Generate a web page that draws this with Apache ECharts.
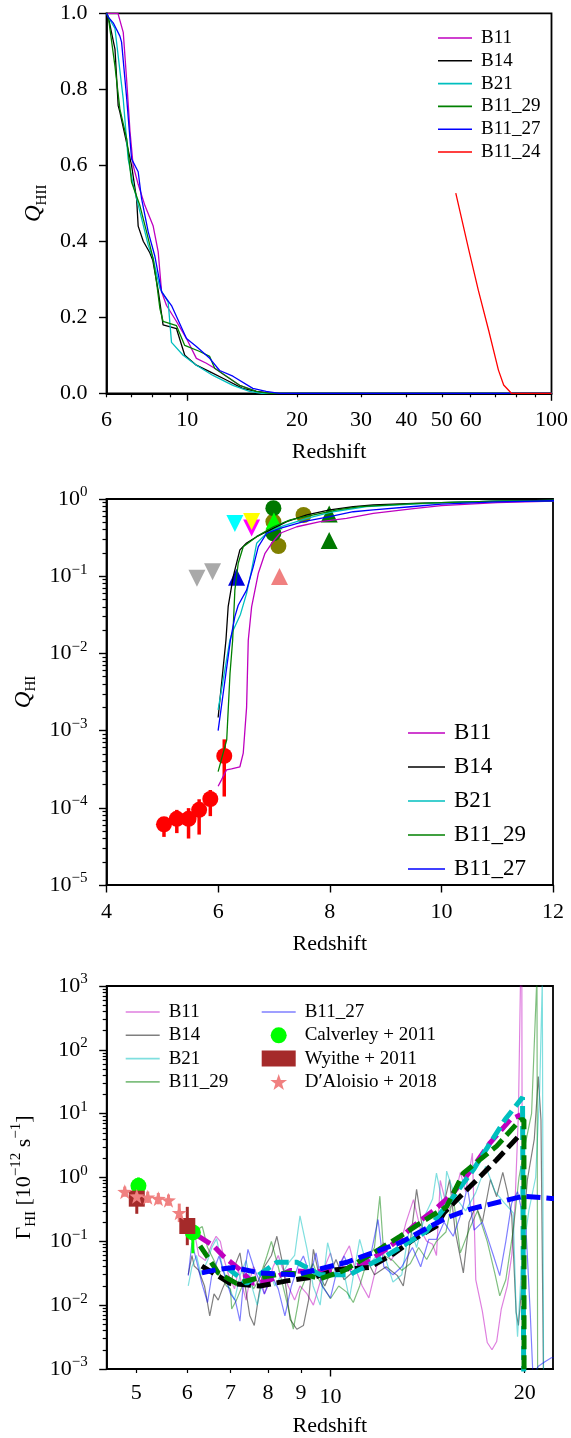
<!DOCTYPE html>
<html>
<head>
<meta charset="utf-8">
<script src="https://cdn.jsdelivr.net/npm/echarts@6/dist/echarts.min.js"></script>
<style>
  html, body { margin: 0; padding: 0; background: #fff; }
  #chart { width: 571px; height: 1438px; }
</style>
</head>
<body>
<div id="chart"></div>
<script>
const L = Math.log10;
const FONT = "'Liberation Serif', 'DejaVu Serif', serif";
const INK = '#000';

// ---------------- Panel 1: ionized fraction Q_HII vs redshift ----------------
const topZLabels = [6, 10, 20, 30, 40, 50, 60, 100];
const topZMajor = [10, 100];
const topZMinor = [6, 7, 8, 9, 20, 30, 40, 50, 60, 70, 80, 90];

const qiiB11Z = [6.0, 6.45, 6.67, 6.82, 6.96, 7.10, 7.33, 7.65, 8.06, 8.32, 8.50, 8.77, 9.34, 9.95, 10.59, 11.28, 11.89, 12.8, 13.92, 15.46, 17.35, 100];
const qiiB11 = [1, 1, 0.95, 0.82, 0.69, 0.60, 0.55, 0.494, 0.44, 0.372, 0.267, 0.231, 0.189, 0.144, 0.092, 0.079, 0.066, 0.045, 0.021, 0.005, 0, 0];
const qiiB14Z = [6.0, 6.07, 6.33, 6.46, 6.53, 7.03, 7.26, 7.33, 7.57, 7.89, 8.04, 8.32, 8.58, 9.34, 9.84, 10.59, 11.52, 12.8, 14.18, 15.46, 16.8, 100];
const qiiB14 = [1, 0.99, 0.906, 0.757, 0.74, 0.6, 0.51, 0.44, 0.40, 0.37, 0.35, 0.27, 0.18, 0.17, 0.10, 0.074, 0.057, 0.035, 0.013, 0.005, 0, 0];
const qiiB21Z = [6.0, 6.07, 6.33, 6.67, 6.88, 7.10, 7.41, 7.81, 8.06, 8.41, 8.86, 9.05, 9.74, 10.59, 11.76, 13.34, 14.82, 15.99, 100];
const qiiB21 = [1, 0.99, 0.96, 0.774, 0.617, 0.55, 0.478, 0.39, 0.354, 0.276, 0.24, 0.134, 0.10, 0.074, 0.047, 0.021, 0.005, 0, 0];
const qiiB1129Z = [6.0, 6.07, 6.33, 6.53, 6.82, 7.03, 7.41, 7.73, 8.06, 8.23, 8.41, 8.58, 9.34, 9.84, 10.82, 11.52, 11.89, 12.8, 13.92, 15.46, 16.8, 100];
const qiiB1129 = [1, 0.99, 0.861, 0.748, 0.669, 0.556, 0.494, 0.425, 0.354, 0.294, 0.223, 0.189, 0.178, 0.126, 0.110, 0.097, 0.066, 0.045, 0.021, 0.005, 0, 0];
const qiiB1127Z = [6.0, 6.07, 6.26, 6.53, 6.60, 6.82, 7.03, 7.33, 7.49, 7.81, 8.14, 8.50, 9.05, 9.95, 10.59, 11.52, 12.27, 13.34, 15.13, 16.46, 17.9, 100];
const qiiB1127 = [1, 0.99, 0.975, 0.94, 0.924, 0.774, 0.617, 0.583, 0.512, 0.425, 0.362, 0.267, 0.231, 0.144, 0.123, 0.092, 0.060, 0.045, 0.013, 0.005, 0, 0];
const qiiB1124Z = [54.6, 59.3, 63, 67.2, 71.5, 73.9, 77.6, 100];
const qiiB1124 = [0.527, 0.377, 0.27, 0.166, 0.061, 0.022, 0, 0];

// ---------------- Panel 2: neutral fraction Q_HI vs redshift ----------------
const qiB11Z = [6.0, 6.06, 6.15, 6.24, 6.39, 6.45, 6.51, 6.54, 6.60, 6.72, 6.84, 6.96, 7.11, 7.41, 7.83, 8.30, 8.78, 9.5, 10, 11, 12.2];
const qiB11 = [1.9e-4, 2.3e-4, 3.1e-4, 3.2e-4, 3.4e-4, 5.1e-4, 2.0e-3, 0.0148, 0.040, 0.109, 0.198, 0.267, 0.36, 0.437, 0.508, 0.562, 0.653, 0.75, 0.82, 0.9, 0.95];
const qiB14Z = [6.0, 6.14, 6.18, 6.27, 6.39, 6.51, 6.69, 6.93, 7.23, 7.59, 8.0, 8.42, 8.78, 9.5, 10, 11, 12.2];
const qiB14 = [1.48e-3, 0.0148, 0.0403, 0.0986, 0.219, 0.269, 0.325, 0.398, 0.508, 0.621, 0.721, 0.794, 0.836, 0.88, 0.9, 0.94, 0.96];
const qiB21Z = [6.0, 6.21, 6.27, 6.4, 6.51, 6.60, 6.69, 6.87, 7.11, 7.59, 8.06, 8.66, 9.5, 10, 11, 12.2];
const qiB21 = [1.86e-3, 0.0148, 0.02, 0.032, 0.06, 0.12, 0.267, 0.36, 0.437, 0.56, 0.684, 0.795, 0.86, 0.9, 0.94, 0.96];
const qiB1129Z = [6.0, 6.154, 6.213, 6.26, 6.30, 6.36, 6.45, 6.69, 6.99, 7.29, 7.71, 8.13, 8.54, 9.5, 10, 11, 12.2];
const qiB1129 = [2.94e-4, 7.6e-4, 5.5e-3, 0.0148, 0.066, 0.147, 0.241, 0.325, 0.437, 0.535, 0.621, 0.721, 0.795, 0.87, 0.9, 0.94, 0.96];
const qiB1127Z = [6.0, 6.22, 6.30, 6.36, 6.51, 6.63, 6.72, 6.87, 7.11, 7.53, 8.0, 8.42, 8.78, 9.5, 10, 11, 12.2];
const qiB1127 = [1.0e-3, 0.0148, 0.030, 0.042, 0.066, 0.133, 0.241, 0.36, 0.417, 0.508, 0.59, 0.684, 0.721, 0.8, 0.86, 0.92, 0.955];

// observational constraints on Q_HI
const fanZ = [5.03, 5.26, 5.47, 5.66, 5.86, 6.11];
const fanQ = [6.1e-5, 7.2e-5, 7.2e-5, 9.4e-5, 1.3e-4, 4.7e-4];
const fanLo = [4.2e-5, 4.7e-5, 4.0e-5, 4.5e-5, 7.8e-5, 1.4e-4];
const fanHi = [7.4e-5, 9.4e-5, 9.9e-5, 1.29e-4, 1.7e-4, 7.7e-4];
const limGrayZ = [5.62, 5.90], limGray = [0.094, 0.114];
const limCyanZ = [6.30], limCyan = [0.48];
const limMagZ = [6.60], limMag = [0.42];
const limYellowZ = [6.60], limYellow = [0.51];
const lowBlueZ = [6.33], lowBlue = [0.097];
const lowSalmonZ = [7.10], lowSalmon = [0.099];
const lowLimeZ = [7.0], lowLime = [0.52];
const lowGreenZ = [7.99, 7.99], lowGreen = [0.64, 0.29];
const ptGreenZ = [6.99, 6.99], ptGreen = [0.76, 0.36];
const ptOliveZ = [6.99, 7.08, 7.53], ptOlive = [0.51, 0.246, 0.62];

// ---------------- Panel 3: photoionization rate vs redshift ----------------
const botZLabels = [5, 6, 7, 8, 9, 20];
const botZMajor = [10];

const gB11Z = [6.1, 6.18, 6.25, 6.4, 6.55, 6.65, 6.75, 6.85, 6.95, 7.1, 7.2, 7.3, 7.4, 7.5, 7.6, 7.7, 7.8, 7.9, 8.0, 8.15, 8.3, 8.45, 8.6, 8.8, 8.97, 9.2, 9.41, 9.6, 9.8, 10.0, 10.2, 10.4, 10.7, 10.9, 11.2, 11.47, 11.7, 12.08, 12.4, 12.8, 13.1, 13.45, 13.8, 14.1, 14.4, 14.6, 14.8, 15.2, 15.5, 15.9, 16.2, 16.6, 16.8, 17.2, 17.5, 17.8, 18.1, 18.4, 18.8, 19.1, 19.3, 19.56, 19.7, 19.8, 19.85];
const gB11 = [0.17, 0.11, 0.06, 0.05, 0.09, 0.12, 0.10, 0.05, 0.03, 0.018, 0.035, 0.02, 0.012, 0.025, 0.04, 0.022, 0.03, 0.015, 0.02, 0.04, 0.06, 0.035, 0.02, 0.012, 0.02, 0.015, 0.01, 0.02, 0.04, 0.066, 0.03, 0.05, 0.085, 0.04, 0.02, 0.013, 0.03, 0.095, 0.05, 0.08, 0.2, 0.45, 0.15, 0.1, 0.09, 0.06, 0.9, 0.3, 0.4, 1.2, 0.6, 2.4, 0.025, 0.008, 0.0026, 0.002, 0.0027, 0.0087, 0.02, 0.06, 0.28, 10, 1000, 1500, 0.0005];
const gB14Z = [6.02, 6.1, 6.15, 6.25, 6.38, 6.5, 6.6, 6.7, 6.8, 6.9, 7.0, 7.1, 7.24, 7.35, 7.5, 7.62, 7.75, 7.9, 8.1, 8.26, 8.45, 8.66, 8.87, 9.08, 9.25, 9.41, 9.6, 9.8, 10.2, 10.5, 10.9, 11.3, 11.7, 12.2, 12.7, 12.97, 13.3, 13.6, 13.9, 14.26, 14.8, 15.3, 15.6, 16.07, 16.4, 16.8, 17.2, 17.7, 18.1, 18.5, 18.8, 19.1, 19.4, 19.56, 19.8, 20.0, 20.2, 20.7, 21.0, 21.2, 21.4];
const gB14 = [0.03, 0.06, 0.041, 0.035, 0.02, 0.0068, 0.015, 0.012, 0.018, 0.025, 0.02, 0.04, 0.066, 0.025, 0.0068, 0.0048, 0.015, 0.04, 0.06, 0.12, 0.04, 0.006, 0.0042, 0.0048, 0.012, 0.075, 0.03, 0.02, 0.052, 0.025, 0.035, 0.06, 0.03, 0.04, 0.029, 0.02, 0.1, 0.65, 0.15, 0.14, 0.22, 0.93, 0.15, 0.032, 0.2, 0.36, 0.2, 0.93, 0.5, 1.2, 0.6, 0.25, 0.0078, 0.0048, 0.02, 0.3, 0.93, 4, 38, 8, 0.0005];
const gB21Z = [6.02, 6.1, 6.2, 6.3, 6.45, 6.55, 6.66, 6.8, 6.95, 7.1, 7.25, 7.4, 7.55, 7.7, 7.85, 8.0, 8.2, 8.4, 8.6, 8.8, 8.97, 9.2, 9.4, 9.64, 9.9, 10.2, 10.4, 10.7, 11.1, 11.4, 11.8, 12.2, 12.5, 12.9, 13.27, 13.6, 14.0, 14.4, 14.6, 15.0, 15.14, 15.6, 16.2, 16.8, 17.4, 18.0, 18.6, 19.2, 19.4, 19.5, 19.8, 20.3, 20.8, 21.1, 21.3, 21.4];
const gB21 = [0.02, 0.04, 0.06, 0.03, 0.05, 0.08, 0.11, 0.04, 0.02, 0.012, 0.03, 0.05, 0.02, 0.01, 0.025, 0.04, 0.02, 0.03, 0.045, 0.06, 0.25, 0.075, 0.02, 0.01, 0.095, 0.03, 0.05, 0.0126, 0.107, 0.04, 0.06, 0.05, 0.023, 0.03, 0.17, 0.08, 0.25, 0.46, 1.17, 0.3, 1.26, 0.5, 0.3, 0.58, 1.5, 0.6, 0.4, 0.28, 0.008, 0.0032, 0.05, 0.3, 1, 23, 1200, 0.0005];
const gB1129Z = [6.1, 6.2, 6.33, 6.45, 6.6, 6.75, 6.9, 7.0, 7.03, 7.15, 7.3, 7.45, 7.6, 7.75, 7.97, 8.1, 8.3, 8.5, 8.66, 8.76, 8.9, 8.97, 9.2, 9.4, 9.6, 10.0, 10.3, 10.6, 10.85, 11.1, 11.4, 11.7, 11.93, 12.1, 12.5, 12.9, 13.3, 13.7, 14.1, 14.6, 15.1, 15.5, 15.9, 16.4, 16.9, 17.5, 18.0, 18.3, 18.7, 19.2, 19.6, 20.0, 20.5, 20.9, 20.95];
const gB1129 = [0.1, 0.15, 0.17, 0.08, 0.05, 0.03, 0.02, 0.018, 0.0087, 0.012, 0.02, 0.03, 0.018, 0.025, 0.059, 0.1, 0.04, 0.015, 0.0068, 0.0042, 0.01, 0.016, 0.03, 0.045, 0.025, 0.0126, 0.02, 0.016, 0.011, 0.02, 0.05, 0.08, 0.51, 0.06, 0.05, 0.035, 0.045, 0.08, 0.052, 0.1, 0.14, 0.5, 0.066, 0.15, 0.3, 0.1, 0.03, 0.014, 0.025, 0.15, 1, 3, 10, 1500, 0.0005];
const gB1127Z = [6.02, 6.1, 6.2, 6.32, 6.45, 6.55, 6.72, 6.85, 7.0, 7.12, 7.24, 7.35, 7.45, 7.6, 7.75, 7.9, 8.1, 8.3, 8.5, 8.7, 8.9, 9.08, 9.3, 9.5, 9.7, 10.0, 10.2, 10.5, 10.8, 11.1, 11.5, 11.85, 12.1, 12.5, 12.9, 13.4, 13.8, 14.2, 14.6, 15.0, 15.5, 16.0, 16.3, 16.7, 17.2, 17.6, 17.9, 18.3, 18.7, 19.1, 19.5, 19.8, 20.1, 20.4, 20.6, 21.0, 21.5, 22.0, 22.2];
const gB1127 = [0.029, 0.095, 0.05, 0.022, 0.011, 0.03, 0.059, 0.03, 0.015, 0.012, 0.0056, 0.03, 0.075, 0.04, 0.025, 0.015, 0.03, 0.018, 0.0068, 0.02, 0.04, 0.059, 0.03, 0.066, 0.02, 0.013, 0.03, 0.059, 0.03, 0.04, 0.05, 0.22, 0.04, 0.03, 0.04, 0.08, 0.04, 0.107, 0.107, 0.2, 0.12, 0.3, 0.72, 0.15, 0.2, 0.1, 0.059, 0.029, 0.1, 0.4, 0.6, 0.3, 0.15, 0.0078, 0.0008, 0.0011, 0.0013, 0.0015, 0.0015];

// smooth fits through the photoionization histories
const fitB11Z = [6.24, 6.59, 6.82, 7.24, 7.59, 8.0, 8.66, 9.3, 10.0, 10.7, 11.4, 12.2, 12.8, 13.45, 14.6, 15.5, 16.6, 17.68, 19.0, 19.7];
const fitB11 = [0.121, 0.085, 0.059, 0.036, 0.022, 0.024, 0.035, 0.033, 0.035, 0.038, 0.047, 0.075, 0.11, 0.174, 0.33, 0.57, 1.4, 3.5, 8.05, 9.6];
const fitB14Z = [6.32, 6.99, 7.78, 8.56, 9.5, 10.2, 11.5, 12.5, 13.45, 14.6, 15.0, 16.46, 18.1, 19.56];
const fitB14 = [0.041, 0.022, 0.020, 0.024, 0.028, 0.036, 0.039, 0.063, 0.107, 0.174, 0.28, 0.72, 1.9, 4.4];
const fitB21Z = [6.91, 7.42, 8.26, 8.87, 9.64, 10.1, 10.7, 12.2, 14.1, 15.5, 16.66, 18.65, 19.85, 19.95];
const fitB21 = [0.039, 0.022, 0.047, 0.047, 0.03, 0.03, 0.03, 0.059, 0.145, 0.5, 1.33, 8.1, 18, 0.0001];
const fitB1129Z = [6.28, 6.7, 7.15, 7.78, 8.56, 9.18, 9.64, 10.5, 11.9, 12.82, 14.6, 15.14, 16.07, 18.1, 19.7, 19.95, 19.96];
const fitB1129 = [0.085, 0.032, 0.022, 0.027, 0.032, 0.030, 0.026, 0.035, 0.075, 0.12, 0.28, 0.35, 1.17, 3.1, 8.05, 8, 0.0001];
const fitB1127Z = [6.32, 6.66, 7.07, 7.78, 8.76, 9.08, 10.6, 12.82, 14.26, 15.14, 16.46, 19.9, 22.0, 22.2];
const fitB1127 = [0.032, 0.036, 0.039, 0.032, 0.030, 0.032, 0.047, 0.095, 0.17, 0.234, 0.32, 0.51, 0.47, 0.47];

// measurements of the photoionization rate
const calZ = [5.04, 6.12], cal = [0.74, 0.138], calLo = [0.5, 0.065], calHi = [1.0, 0.18];
const wyZ = [5.01, 6.0], wy = [0.466, 0.174], wyLo = [0.27, 0.087], wyHi = [0.71, 0.347];
const daZ = [4.80, 5.01, 5.21, 5.41, 5.61, 5.83];
const da = [0.60, 0.51, 0.49, 0.466, 0.44, 0.28];
const daLo = [0.5, 0.42, 0.40, 0.38, 0.36, 0.2];
const daHi = [0.72, 0.62, 0.60, 0.57, 0.54, 0.39];

// ---------------- helpers ----------------
const zip = (xs, ys, fx, fy) => xs.map((x, i) => [fx(x), fy(ys[i])]);
const same = v => v;
const logMinor = (a, b) => { const out = []; for (let n = a; n < b; n++) for (let k = 2; k <= 9; k++) out.push(L(k * Math.pow(10, n))); return out; };
const supLabel = v => { const n = Math.round(v); return '{b|10}{sup|' + (n < 0 ? '\u2212' + (-n) : String(n)) + '}'; };
const tickRich = {
  b: { fontFamily: FONT, fontSize: 22, lineHeight: 28, verticalAlign: 'middle', color: INK },
  sup: { fontFamily: FONT, fontSize: 15, lineHeight: 15, verticalAlign: 'top', color: INK }
};
const nameRich = {
  q: { fontFamily: FONT, fontStyle: 'italic', fontSize: 23, lineHeight: 30, verticalAlign: 'middle', color: INK },
  g: { fontFamily: FONT, fontSize: 22, lineHeight: 30, verticalAlign: 'middle', color: INK },
  sb: { fontFamily: FONT, fontSize: 15, lineHeight: 15, verticalAlign: 'bottom', color: INK },
  sp: { fontFamily: FONT, fontSize: 15, lineHeight: 15, verticalAlign: 'top', color: INK }
};
const spine = { show: true, onZero: false, lineStyle: { color: INK, width: 1.8 } };
const labelStyle = { fontFamily: FONT, fontSize: 22, color: INK };
const xName = { fontFamily: FONT, fontSize: 22, color: INK };

function minorAxis(gridIndex, min, max, ticks, position, extra) {
  return Object.assign({
    gridIndex, type: 'value', min, max, position,
    axisLine: { show: false, onZero: false },
    axisTick: { show: true, customValues: ticks, length: 4, lineStyle: { color: INK, width: 1.2 } },
    axisLabel: { show: false },
    splitLine: { show: false }
  }, extra || {});
}

const SOLID = { m: '#bf00bf', k: '#000000', c: '#00bfbf', g: '#008000', b: '#0000ff', r: '#ff0000' };
const FADED = { m: 'rgba(191,0,191,0.5)', k: 'rgba(0,0,0,0.5)', c: 'rgba(0,191,191,0.5)', g: 'rgba(0,128,0,0.5)', b: 'rgba(0,0,255,0.5)' };

function line(name, xi, yi, data, color, width, extra) {
  return Object.assign({
    name, type: 'line', xAxisIndex: xi, yAxisIndex: yi, data,
    symbol: 'none', showSymbol: false, clip: true, silent: true,
    lineStyle: { color, width }, itemStyle: { color }
  }, extra || {});
}
function scatter(name, xi, yi, data, color, symbol, size, rotate, z) {
  return {
    name, type: 'scatter', xAxisIndex: xi, yAxisIndex: yi, data,
    symbol, symbolSize: size, symbolRotate: rotate || 0, silent: true, z: z || 3,
    itemStyle: { color, opacity: 1 }
  };
}
function errorBars(xi, yi, data, color, width, z) {
  return {
    type: 'custom', xAxisIndex: xi, yAxisIndex: yi, data, silent: true, z: z || 3,
    encode: { x: 0, y: [1, 2] },
    renderItem: (params, api) => {
      const a = api.coord([api.value(0), api.value(1)]);
      const b = api.coord([api.value(0), api.value(2)]);
      return { type: 'line', shape: { x1: a[0], y1: a[1], x2: b[0], y2: b[1] }, style: { stroke: color, lineWidth: width } };
    }
  };
}
const STAR = 'path://M0,-10 L2.35,-3.24 L9.51,-3.09 L3.8,1.24 L5.88,8.09 L0,4 L-5.88,8.09 L-3.8,1.24 L-9.51,-3.09 L-2.35,-3.24 Z';
const LINE_ICON = 'path://M0,0 L34,0 L34,1.6 L0,1.6 Z';
const stripKey = n => n.slice(n.indexOf(':') + 1);

// ---------------- axes ----------------
const P1X = [L(6), 2], P3X = [L(4.5), L(22.13)];

const xAxis = [
  { // 0: panel 1 main
    gridIndex: 0, type: 'value', min: P1X[0], max: P1X[1], position: 'bottom',
    axisLine: spine,
    axisTick: { customValues: topZMajor.map(L), length: 7.5, lineStyle: { color: INK, width: 1.4 } },
    axisLabel: Object.assign({ customValues: topZLabels.map(L), formatter: v => String(Math.round(Math.pow(10, v))), margin: 16 }, labelStyle),
    splitLine: { show: false },
    name: 'Redshift', nameLocation: 'middle', nameGap: 48, nameTextStyle: xName
  },
  minorAxis(0, P1X[0], P1X[1], topZMinor.map(L), 'bottom'), // 1
  { // 2: panel 2
    gridIndex: 1, type: 'value', min: 4, max: 12, interval: 2, position: 'bottom',
    axisLine: spine,
    axisTick: { length: 7.5, lineStyle: { color: INK, width: 1.4 } },
    axisLabel: Object.assign({ margin: 16, formatter: v => String(v) }, labelStyle),
    splitLine: { show: false },
    name: 'Redshift', nameLocation: 'middle', nameGap: 48, nameTextStyle: xName
  },
  { // 3: panel 3 main
    gridIndex: 2, type: 'value', min: P3X[0], max: P3X[1], position: 'bottom',
    axisLine: spine,
    axisTick: { customValues: botZMajor.map(L), length: 7.5, lineStyle: { color: INK, width: 1.4 } },
    axisLabel: Object.assign({ customValues: botZMajor.map(L), formatter: v => String(Math.round(Math.pow(10, v))), margin: 17 }, labelStyle),
    splitLine: { show: false },
    name: 'Redshift', nameLocation: 'middle', nameGap: 46, nameTextStyle: xName
  },
  minorAxis(2, P3X[0], P3X[1], botZLabels.map(L), 'bottom', { // 4
    axisLabel: Object.assign({ show: true, customValues: botZLabels.map(L), formatter: v => String(Math.round(Math.pow(10, v))), margin: 13 }, labelStyle)
  })
];

const yAxis = [
  { // 0: panel 1
    gridIndex: 0, type: 'value', min: 0, max: 1, interval: 0.2, position: 'left',
    axisLine: spine,
    axisTick: { length: 7.5, lineStyle: { color: INK, width: 1.4 } },
    axisLabel: Object.assign({ formatter: v => v.toFixed(1), margin: 19 }, labelStyle),
    splitLine: { show: false },
    name: '{q|Q}{sb|HII}', nameLocation: 'middle', nameRotate: 90, nameGap: 51,
    nameTextStyle: { rich: nameRich }
  },
  { // 1: panel 2 main (log10 of Q_HI)
    gridIndex: 1, type: 'value', min: -5, max: 0, interval: 1, position: 'left',
    axisLine: spine,
    axisTick: { length: 7.5, lineStyle: { color: INK, width: 1.4 } },
    axisLabel: { formatter: supLabel, margin: 19, rich: tickRich },
    splitLine: { show: false },
    name: '{q|Q}{sb|HI}', nameLocation: 'middle', nameRotate: 90, nameGap: 48,
    nameTextStyle: { rich: nameRich }
  },
  minorAxis(1, -5, 0, logMinor(-5, 0), 'left'), // 2
  { // 3: panel 3 main (log10 of Gamma)
    gridIndex: 2, type: 'value', min: -3, max: 3, interval: 1, position: 'left',
    axisLine: spine,
    axisTick: { length: 7.5, lineStyle: { color: INK, width: 1.4 } },
    axisLabel: { formatter: supLabel, margin: 19, rich: tickRich },
    splitLine: { show: false },
    name: '{g|\u0393}{sb|HI}{g| [10}{sp|\u221212}{g| s}{sp|\u22121}{g|]}', nameLocation: 'middle', nameRotate: 90, nameGap: 66,
    nameTextStyle: { rich: nameRich }
  },
  minorAxis(2, -3, 3, logMinor(-3, 3), 'left') // 4
];

const grid = [
  { left: 106.5, top: 13.3, width: 446.5, height: 380, show: true, borderColor: INK, borderWidth: 1.8, backgroundColor: 'transparent' },
  { left: 106.5, top: 499, width: 446.5, height: 386, show: true, borderColor: INK, borderWidth: 1.8, backgroundColor: 'transparent' },
  { left: 106.7, top: 986, width: 446.3, height: 383, show: true, borderColor: INK, borderWidth: 1.8, backgroundColor: 'transparent' }
];

// ---------------- series ----------------
const lz = v => L(v);
const fitStyle = c => ({ lineStyle: { color: c, width: 5, type: [14, 6], cap: 'butt' } });
const TRI = 17, DOT = 16;
const series = [
  // panel 1
  line('p1:B11', 0, 0, zip(qiiB11Z, qiiB11, lz, same), SOLID.m, 1.3),
  line('p1:B14', 0, 0, zip(qiiB14Z, qiiB14, lz, same), SOLID.k, 1.3),
  line('p1:B21', 0, 0, zip(qiiB21Z, qiiB21, lz, same), SOLID.c, 1.3),
  line('p1:B11_29', 0, 0, zip(qiiB1129Z, qiiB1129, lz, same), SOLID.g, 1.3),
  line('p1:B11_27', 0, 0, zip(qiiB1127Z, qiiB1127, lz, same), SOLID.b, 1.3),
  line('p1:B11_24', 0, 0, zip(qiiB1124Z, qiiB1124, lz, same), SOLID.r, 1.3),

  // panel 2 observational markers (beneath the model curves)
  scatter('obs:olive', 2, 1, zip(ptOliveZ, ptOlive, same, lz), '#808000', 'circle', DOT, 0, 2),
  scatter('obs:green', 2, 1, zip(ptGreenZ, ptGreen, same, lz), '#007800', 'circle', DOT, 0, 2),
  scatter('obs:lime', 2, 1, zip(lowLimeZ, lowLime, same, lz), '#00ff00', 'triangle', TRI, 0, 2),
  scatter('obs:greenup', 2, 1, zip(lowGreenZ, lowGreen, same, lz), '#007800', 'triangle', TRI, 0, 2),
  scatter('obs:blueup', 2, 1, zip(lowBlueZ, lowBlue, same, lz), '#0000dd', 'triangle', TRI, 0, 2),
  scatter('obs:salmonup', 2, 1, zip(lowSalmonZ, lowSalmon, same, lz), '#f08080', 'triangle', TRI, 0, 2),
  scatter('obs:gray', 2, 1, zip(limGrayZ, limGray, same, lz), '#a9a9a9', 'triangle', TRI, 180, 2),
  scatter('obs:cyan', 2, 1, zip(limCyanZ, limCyan, same, lz), '#00ffff', 'triangle', TRI, 180, 2),
  scatter('obs:magenta', 2, 1, zip(limMagZ, limMag, same, lz), '#ff00ff', 'triangle', TRI, 180, 2),
  scatter('obs:yellow', 2, 1, zip(limYellowZ, limYellow, same, lz), '#ffff00', 'triangle', TRI, 180, 2),
  errorBars(2, 1, fanZ.map((z, i) => [z, L(fanLo[i]), L(fanHi[i])]), '#ff0000', 3.5, 2),
  scatter('obs:fan', 2, 1, zip(fanZ, fanQ, same, lz), '#ff0000', 'circle', DOT, 0, 2),

  // panel 2 model curves
  line('p2:B11', 2, 1, zip(qiB11Z, qiB11, same, lz), SOLID.m, 1.3),
  line('p2:B14', 2, 1, zip(qiB14Z, qiB14, same, lz), SOLID.k, 1.3),
  line('p2:B21', 2, 1, zip(qiB21Z, qiB21, same, lz), SOLID.c, 1.3),
  line('p2:B11_29', 2, 1, zip(qiB1129Z, qiB1129, same, lz), SOLID.g, 1.3),
  line('p2:B11_27', 2, 1, zip(qiB1127Z, qiB1127, same, lz), SOLID.b, 1.3),

  // panel 3 noisy histories
  line('p3:B11', 3, 3, zip(gB11Z, gB11, lz, lz), FADED.m, 1.2),
  line('p3:B14', 3, 3, zip(gB14Z, gB14, lz, lz), FADED.k, 1.2),
  line('p3:B21', 3, 3, zip(gB21Z, gB21, lz, lz), FADED.c, 1.2),
  line('p3:B11_29', 3, 3, zip(gB1129Z, gB1129, lz, lz), FADED.g, 1.2),
  line('p3:B11_27', 3, 3, zip(gB1127Z, gB1127, lz, lz), FADED.b, 1.2),

  // panel 3 fits
  line('fit:B11', 3, 3, zip(fitB11Z, fitB11, lz, lz), SOLID.m, 5, fitStyle(SOLID.m)),
  line('fit:B14', 3, 3, zip(fitB14Z, fitB14, lz, lz), SOLID.k, 5, fitStyle(SOLID.k)),
  line('fit:B21', 3, 3, zip(fitB21Z, fitB21, lz, lz), SOLID.c, 5, fitStyle(SOLID.c)),
  line('fit:B11_29', 3, 3, zip(fitB1129Z, fitB1129, lz, lz), SOLID.g, 5, fitStyle(SOLID.g)),
  line('fit:B11_27', 3, 3, zip(fitB1127Z, fitB1127, lz, lz), SOLID.b, 5, fitStyle(SOLID.b)),

  // panel 3 measurements
  errorBars(3, 3, calZ.map((z, i) => [L(z), L(calLo[i]), L(calHi[i])]), '#00ff00', 3, 4),
  scatter('p3:Calverley + 2011', 3, 3, zip(calZ, cal, lz, lz), '#00ff00', 'circle', DOT, 0, 4),
  errorBars(3, 3, wyZ.map((z, i) => [L(z), L(wyLo[i]), L(wyHi[i])]), '#a52a2a', 3, 4),
  scatter('p3:Wyithe + 2011', 3, 3, zip(wyZ, wy, lz, lz), '#a52a2a', 'rect', 16, 0, 4),
  errorBars(3, 3, daZ.map((z, i) => [L(z), L(daLo[i]), L(daHi[i])]), '#f08080', 3, 4),
  scatter('p3:D\u2032Aloisio + 2018', 3, 3, zip(daZ, da, lz, lz), '#f08080', STAR, 15, 0, 4)
];

// ---------------- legends ----------------
const legendText = (size, lh) => ({ fontFamily: FONT, fontSize: size, lineHeight: lh, color: INK, padding: [0, 0, 0, 4] });
const legend = [
  {
    data: ['p1:B11', 'p1:B14', 'p1:B21', 'p1:B11_29', 'p1:B11_27', 'p1:B11_24'],
    icon: LINE_ICON, left: 433, top: 23, orient: 'vertical', itemWidth: 34, itemHeight: 12, itemGap: 2.8,
    selectedMode: false, formatter: stripKey, textStyle: legendText(19, 20)
  },
  {
    data: ['p2:B11', 'p2:B14', 'p2:B21', 'p2:B11_29', 'p2:B11_27'],
    icon: LINE_ICON, left: 403, top: 716, orient: 'vertical', itemWidth: 37, itemHeight: 14, itemGap: 10,
    selectedMode: false, formatter: stripKey, textStyle: legendText(23, 24)
  },
  {
    data: ['p3:B11', 'p3:B14', 'p3:B21', 'p3:B11_29'],
    icon: LINE_ICON, left: 120.7, top: 997, orient: 'vertical', itemWidth: 34, itemHeight: 16, itemGap: 3.3,
    selectedMode: false, formatter: stripKey, textStyle: legendText(19, 20)
  },
  {
    data: [{ name: 'p3:B11_27', icon: LINE_ICON }, 'p3:Calverley + 2011', 'p3:Wyithe + 2011', 'p3:D\u2032Aloisio + 2018'],
    left: 256.7, top: 997, orient: 'vertical', itemWidth: 34, itemHeight: 16, itemGap: 3.3,
    selectedMode: false, formatter: stripKey, textStyle: legendText(19, 20)
  }
];

const chart = echarts.init(document.getElementById('chart'), null, { renderer: 'canvas' });
chart.setOption({
  animation: false,
  backgroundColor: '#fff',
  textStyle: { fontFamily: FONT },
  grid, xAxis, yAxis, legend, series
});
</script>
</body>
</html>
